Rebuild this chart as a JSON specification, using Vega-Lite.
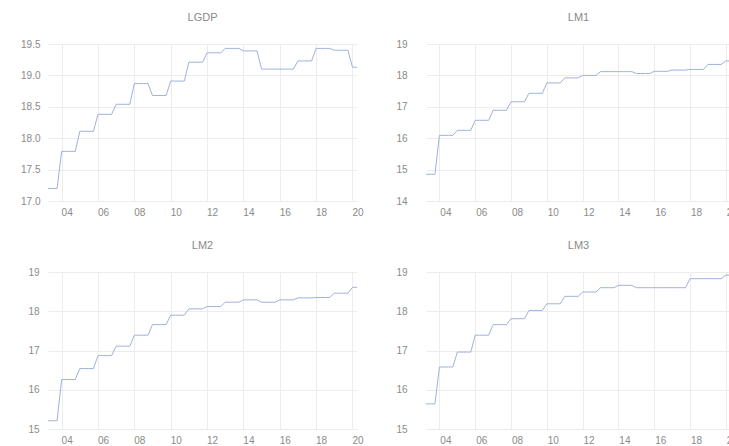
{
"$schema": "https://vega.github.io/schema/vega-lite/v6.json",
"background": "white",
"padding": {"left": 0, "top": 12, "right": 0, "bottom": 0},
"data": {"values": [
{"t":2003.25,"LGDP":17.2,"LM1":14.85,"LM2":15.21,"LM3":15.64},
{"t":2003.5,"LGDP":17.2,"LM1":14.85,"LM2":15.21,"LM3":15.64},
{"t":2003.75,"LGDP":17.2,"LM1":14.85,"LM2":15.21,"LM3":15.64},
{"t":2004,"LGDP":17.79,"LM1":16.09,"LM2":16.26,"LM3":16.58},
{"t":2004.25,"LGDP":17.79,"LM1":16.09,"LM2":16.26,"LM3":16.58},
{"t":2004.5,"LGDP":17.79,"LM1":16.09,"LM2":16.26,"LM3":16.58},
{"t":2004.75,"LGDP":17.79,"LM1":16.09,"LM2":16.26,"LM3":16.58},
{"t":2005,"LGDP":18.11,"LM1":16.25,"LM2":16.54,"LM3":16.96},
{"t":2005.25,"LGDP":18.11,"LM1":16.25,"LM2":16.54,"LM3":16.96},
{"t":2005.5,"LGDP":18.11,"LM1":16.25,"LM2":16.54,"LM3":16.96},
{"t":2005.75,"LGDP":18.11,"LM1":16.25,"LM2":16.54,"LM3":16.96},
{"t":2006,"LGDP":18.38,"LM1":16.57,"LM2":16.87,"LM3":17.39},
{"t":2006.25,"LGDP":18.38,"LM1":16.57,"LM2":16.87,"LM3":17.39},
{"t":2006.5,"LGDP":18.38,"LM1":16.57,"LM2":16.87,"LM3":17.39},
{"t":2006.75,"LGDP":18.38,"LM1":16.57,"LM2":16.87,"LM3":17.39},
{"t":2007,"LGDP":18.54,"LM1":16.89,"LM2":17.11,"LM3":17.66},
{"t":2007.25,"LGDP":18.54,"LM1":16.89,"LM2":17.11,"LM3":17.66},
{"t":2007.5,"LGDP":18.54,"LM1":16.89,"LM2":17.11,"LM3":17.66},
{"t":2007.75,"LGDP":18.54,"LM1":16.89,"LM2":17.11,"LM3":17.66},
{"t":2008,"LGDP":18.87,"LM1":17.16,"LM2":17.39,"LM3":17.81},
{"t":2008.25,"LGDP":18.87,"LM1":17.16,"LM2":17.39,"LM3":17.81},
{"t":2008.5,"LGDP":18.87,"LM1":17.16,"LM2":17.39,"LM3":17.81},
{"t":2008.75,"LGDP":18.87,"LM1":17.16,"LM2":17.39,"LM3":17.81},
{"t":2009,"LGDP":18.68,"LM1":17.43,"LM2":17.66,"LM3":18.02},
{"t":2009.25,"LGDP":18.68,"LM1":17.43,"LM2":17.66,"LM3":18.02},
{"t":2009.5,"LGDP":18.68,"LM1":17.43,"LM2":17.66,"LM3":18.02},
{"t":2009.75,"LGDP":18.68,"LM1":17.43,"LM2":17.66,"LM3":18.02},
{"t":2010,"LGDP":18.91,"LM1":17.76,"LM2":17.9,"LM3":18.19},
{"t":2010.25,"LGDP":18.91,"LM1":17.76,"LM2":17.9,"LM3":18.19},
{"t":2010.5,"LGDP":18.91,"LM1":17.76,"LM2":17.9,"LM3":18.19},
{"t":2010.75,"LGDP":18.91,"LM1":17.76,"LM2":17.9,"LM3":18.19},
{"t":2011,"LGDP":19.21,"LM1":17.92,"LM2":18.06,"LM3":18.38},
{"t":2011.25,"LGDP":19.21,"LM1":17.92,"LM2":18.06,"LM3":18.38},
{"t":2011.5,"LGDP":19.21,"LM1":17.92,"LM2":18.06,"LM3":18.38},
{"t":2011.75,"LGDP":19.21,"LM1":17.92,"LM2":18.06,"LM3":18.38},
{"t":2012,"LGDP":19.36,"LM1":18.0,"LM2":18.12,"LM3":18.49},
{"t":2012.25,"LGDP":19.36,"LM1":18.0,"LM2":18.12,"LM3":18.49},
{"t":2012.5,"LGDP":19.36,"LM1":18.0,"LM2":18.12,"LM3":18.49},
{"t":2012.75,"LGDP":19.36,"LM1":18.0,"LM2":18.12,"LM3":18.49},
{"t":2013,"LGDP":19.43,"LM1":18.12,"LM2":18.23,"LM3":18.6},
{"t":2013.25,"LGDP":19.43,"LM1":18.12,"LM2":18.23,"LM3":18.6},
{"t":2013.5,"LGDP":19.43,"LM1":18.12,"LM2":18.23,"LM3":18.6},
{"t":2013.75,"LGDP":19.43,"LM1":18.12,"LM2":18.23,"LM3":18.6},
{"t":2014,"LGDP":19.39,"LM1":18.12,"LM2":18.29,"LM3":18.66},
{"t":2014.25,"LGDP":19.39,"LM1":18.12,"LM2":18.29,"LM3":18.66},
{"t":2014.5,"LGDP":19.39,"LM1":18.12,"LM2":18.29,"LM3":18.66},
{"t":2014.75,"LGDP":19.39,"LM1":18.12,"LM2":18.29,"LM3":18.66},
{"t":2015,"LGDP":19.1,"LM1":18.06,"LM2":18.23,"LM3":18.6},
{"t":2015.25,"LGDP":19.1,"LM1":18.06,"LM2":18.23,"LM3":18.6},
{"t":2015.5,"LGDP":19.1,"LM1":18.06,"LM2":18.23,"LM3":18.6},
{"t":2015.75,"LGDP":19.1,"LM1":18.06,"LM2":18.23,"LM3":18.6},
{"t":2016,"LGDP":19.1,"LM1":18.13,"LM2":18.29,"LM3":18.6},
{"t":2016.25,"LGDP":19.1,"LM1":18.13,"LM2":18.29,"LM3":18.6},
{"t":2016.5,"LGDP":19.1,"LM1":18.13,"LM2":18.29,"LM3":18.6},
{"t":2016.75,"LGDP":19.1,"LM1":18.13,"LM2":18.29,"LM3":18.6},
{"t":2017,"LGDP":19.23,"LM1":18.17,"LM2":18.34,"LM3":18.6},
{"t":2017.25,"LGDP":19.23,"LM1":18.17,"LM2":18.34,"LM3":18.6},
{"t":2017.5,"LGDP":19.23,"LM1":18.17,"LM2":18.34,"LM3":18.6},
{"t":2017.75,"LGDP":19.23,"LM1":18.17,"LM2":18.34,"LM3":18.6},
{"t":2018,"LGDP":19.43,"LM1":18.19,"LM2":18.35,"LM3":18.83},
{"t":2018.25,"LGDP":19.43,"LM1":18.19,"LM2":18.35,"LM3":18.83},
{"t":2018.5,"LGDP":19.43,"LM1":18.19,"LM2":18.35,"LM3":18.83},
{"t":2018.75,"LGDP":19.43,"LM1":18.19,"LM2":18.35,"LM3":18.83},
{"t":2019,"LGDP":19.4,"LM1":18.35,"LM2":18.46,"LM3":18.83},
{"t":2019.25,"LGDP":19.4,"LM1":18.35,"LM2":18.46,"LM3":18.83},
{"t":2019.5,"LGDP":19.4,"LM1":18.35,"LM2":18.46,"LM3":18.83},
{"t":2019.75,"LGDP":19.4,"LM1":18.35,"LM2":18.46,"LM3":18.83},
{"t":2020,"LGDP":19.13,"LM1":18.46,"LM2":18.61,"LM3":18.92},
{"t":2020.25,"LGDP":19.13,"LM1":18.46,"LM2":18.61,"LM3":18.92}
]},
"columns": 2,
"spacing": {"row": 19, "column": 31},
"concat": [
{"title": "LGDP", "width": 309, "height": 157,
 "mark": {"type": "line", "color": "#9fb1dc", "strokeWidth": 1, "clip": true},
 "encoding": {
  "x": {"field": "t", "type": "quantitative", "scale": {"domain": [2003.25, 2020.25], "nice": false, "zero": false},
        "axis": {"title": null, "values": [2004,2006,2008,2010,2012,2014,2016,2018,2020], "labelExpr": "substring(toString(datum.value), 2)", "labelOffset": 5, "labelPadding": 6, "minExtent": 20, "maxExtent": 20}},
  "y": {"field": "LGDP", "type": "quantitative", "scale": {"domain": [17, 19.5], "nice": false, "zero": false},
        "axis": {"title": null, "values": [17,17.5,18,18.5,19,19.5], "format": ".1f", "labelPadding": 8, "minExtent": 48, "maxExtent": 48}}
 }},
{"title": "LM1", "width": 305, "height": 157,
 "mark": {"type": "line", "color": "#9fb1dc", "strokeWidth": 1, "clip": true},
 "encoding": {
  "x": {"field": "t", "type": "quantitative", "scale": {"domain": [2003.25, 2020.29], "nice": false, "zero": false},
        "axis": {"title": null, "values": [2004,2006,2008,2010,2012,2014,2016,2018,2020], "labelExpr": "substring(toString(datum.value), 2)", "labelOffset": 6, "labelPadding": 6, "minExtent": 20, "maxExtent": 20}},
  "y": {"field": "LM1", "type": "quantitative", "scale": {"domain": [14, 19], "nice": false, "zero": false},
        "axis": {"title": null, "values": [14,15,16,17,18,19], "format": "d", "labelPadding": 19, "minExtent": 30, "maxExtent": 30}}
 }},
{"title": "LM2", "width": 309, "height": 157,
 "mark": {"type": "line", "color": "#9fb1dc", "strokeWidth": 1, "clip": true},
 "encoding": {
  "x": {"field": "t", "type": "quantitative", "scale": {"domain": [2003.25, 2020.25], "nice": false, "zero": false},
        "axis": {"title": null, "values": [2004,2006,2008,2010,2012,2014,2016,2018,2020], "labelExpr": "substring(toString(datum.value), 2)", "labelOffset": 5, "labelPadding": 6, "minExtent": 20, "maxExtent": 20}},
  "y": {"field": "LM2", "type": "quantitative", "scale": {"domain": [15, 19], "nice": false, "zero": false},
        "axis": {"title": null, "values": [15,16,17,18,19], "format": "d", "labelPadding": 9, "minExtent": 48, "maxExtent": 48}}
 }},
{"title": "LM3", "width": 305, "height": 157,
 "mark": {"type": "line", "color": "#9fb1dc", "strokeWidth": 1, "clip": true},
 "encoding": {
  "x": {"field": "t", "type": "quantitative", "scale": {"domain": [2003.25, 2020.29], "nice": false, "zero": false},
        "axis": {"title": null, "values": [2004,2006,2008,2010,2012,2014,2016,2018,2020], "labelExpr": "substring(toString(datum.value), 2)", "labelOffset": 6, "labelPadding": 6, "minExtent": 20, "maxExtent": 20}},
  "y": {"field": "LM3", "type": "quantitative", "scale": {"domain": [15, 19], "nice": false, "zero": false},
        "axis": {"title": null, "values": [15,16,17,18,19], "format": "d", "labelPadding": 19, "minExtent": 30, "maxExtent": 30}}
 }}
],
"config": {
 "view": {"stroke": null},
 "font": "Liberation Sans",
 "axis": {"domain": false, "ticks": false, "tickSize": 0, "labelColor": "#8a8a8a", "labelFontSize": 10, "gridColor": "#ececec", "gridWidth": 1},
 "title": {"fontSize": 11, "fontWeight": "normal", "color": "#8a8a8a", "anchor": "middle", "offset": 16}
}
}
